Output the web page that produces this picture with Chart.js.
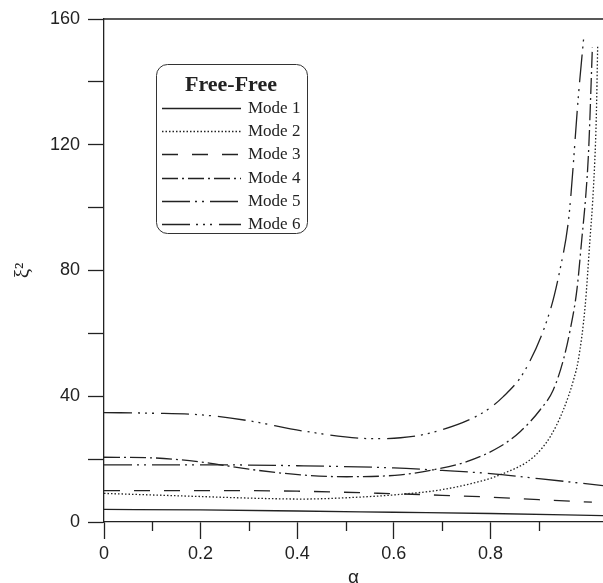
<!DOCTYPE html>
<html>
<head>
<meta charset="utf-8">
<script src="https://cdn.jsdelivr.net/npm/chart.js@4.4.0/dist/chart.umd.min.js"></script>
<style>
    html, body { margin: 0; padding: 0; background: #fff; }
    #wrap { width: 603px; height: 583px; }
</style>
</head>
<body>
<div id="wrap"><canvas id="modeChart" width="603" height="583"></canvas></div>
<script>
// values (alpha -> xi^2)
const legendTitle = 'Free-Free';
const modeLabels = ['Mode 1', 'Mode 2', 'Mode 3', 'Mode 4', 'Mode 5', 'Mode 6'];

const alpha1 = [0, 0.2, 0.4, 0.6, 0.8, 1.033];
const xi1 = [4.0, 3.85, 3.5, 3.1, 2.7, 2.0];

const alpha2 = [0, 0.1, 0.2, 0.3, 0.41, 0.5, 0.614, 0.7, 0.78, 0.82, 0.89, 0.924, 0.951, 0.972, 0.982, 0.996, 1.006, 1.013, 1.019, 1.022];
const xi2 = [9.1, 8.6, 8.1, 7.6, 7.3, 7.7, 8.8, 10.3, 13.0, 15.0, 20.8, 27.2, 35.7, 45.2, 51.6, 68.6, 89.8, 105.7, 128, 151.4];

const alpha3 = [0, 0.2, 0.4, 0.6, 0.7, 0.8, 0.9, 1.01];
const xi3 = [10.0, 10.0, 9.8, 9.0, 8.5, 7.9, 7.1, 6.3];

const alpha4 = [0, 0.1, 0.2, 0.3, 0.407, 0.503, 0.614, 0.682, 0.751, 0.82, 0.862, 0.903, 0.93, 0.951, 0.965, 0.979, 0.989, 0.997, 1.003, 1.011];
const xi4 = [20.6, 20.4, 19.1, 16.8, 15.0, 14.4, 15.0, 16.6, 19.2, 24.0, 28.8, 35.7, 42.0, 51.6, 61.1, 73.9, 89.8, 103.2, 117.4, 150.9];

const alpha5 = [0, 0.2, 0.4, 0.6, 0.7, 0.8, 0.9, 1.033];
const xi5 = [18.2, 18.2, 17.9, 17.2, 16.4, 15.4, 13.8, 11.6];

const alpha6 = [0, 0.1, 0.2, 0.3, 0.41, 0.56, 0.614, 0.675, 0.78, 0.826, 0.872, 0.924, 0.944, 0.961, 0.967, 0.982, 0.993];
const xi6 = [34.8, 34.6, 34.1, 32.2, 29.0, 26.5, 26.8, 28.3, 34.4, 39.8, 48.4, 67.5, 80.3, 95.2, 104.8, 135.4, 154.0];

const alphaSets = [alpha1, alpha2, alpha3, alpha4, alpha5, alpha6];
const xiSets = [xi1, xi2, xi3, xi4, xi5, xi6];
const dashes = [[], [1.5, 2], [16, 14], [16, 4, 2, 4], [28, 5, 2, 5, 2, 6], [28, 6, 2, 5, 2, 5, 2, 7]];

const ink = '#222';

// short minor ticks on the x axis, top frame line, boxed legend
const extras = {
    id: 'extras',
    afterDraw(chart) {
        const c = chart.ctx;
        const area = chart.chartArea;
        const xs = chart.scales.x;
        c.save();
        c.strokeStyle = ink;
        c.lineWidth = 1.3;
        c.beginPath();
        c.moveTo(area.left, area.top);
        c.lineTo(area.right, area.top);
        [0.1, 0.3, 0.5, 0.7, 0.9].forEach(v => {
            const px = Math.round(xs.getPixelForValue(v)) + 0.5;
            c.moveTo(px, area.bottom);
            c.lineTo(px, area.bottom + 9);
        });
        c.stroke();

        // legend box
        const bx = 156, by = 64, bw = 151, bh = 169;
        c.fillStyle = '#fff';
        c.lineWidth = 1;
        c.strokeStyle = '#333';
        c.beginPath();
        c.roundRect(bx + 0.5, by + 0.5, bw, bh, 11);
        c.fill();
        c.stroke();

        c.fillStyle = ink;
        c.textAlign = 'center';
        c.textBaseline = 'middle';
        c.font = 'bold 22px "Liberation Serif"';
        c.fillText(legendTitle, 231, 85);

        c.font = '17px "Liberation Serif"';
        c.textAlign = 'left';
        chart.data.datasets.forEach((ds, i) => {
            const y = Math.round(108 + 23.2 * i) + 0.5;
            c.strokeStyle = ink;
            c.lineWidth = 1.3;
            c.setLineDash(ds.borderDash);
            c.beginPath();
            c.moveTo(162, y);
            c.lineTo(241, y);
            c.stroke();
            c.setLineDash([]);
            c.fillText(ds.label, 248, y);
        });
        c.restore();
    }
};

const ctx = document.getElementById('modeChart').getContext('2d');
Chart.defaults.font.family = '"Liberation Sans", Arial, sans-serif';
Chart.defaults.color = ink;

const modeChart = new Chart(ctx, {
    type: 'line',
    data: {
        datasets: modeLabels.map((label, i) => ({
            label: label,
            data: alphaSets[i].map((a, j) => ({ x: a, y: xiSets[i][j] })),
            borderColor: ink,
            borderWidth: 1.3,
            borderDash: dashes[i],
            pointRadius: 0,
            fill: false,
            cubicInterpolationMode: 'monotone',
        })),
    },
    options: {
        responsive: false,
        animation: false,
        layout: { padding: { top: 19, right: 0, left: 0, bottom: 0 } },
        plugins: { legend: { display: false }, tooltip: { enabled: false } },
        scales: {
            x: {
                type: 'linear',
                min: 0,
                max: 1.033,
                afterBuildTicks: s => { s.ticks = s.ticks.filter(t => t.value < 0.95); },
                afterFit: s => { s.height = 61; },
                ticks: {
                    stepSize: 0.1,
                    autoSkip: false,
                    maxRotation: 0,
                    padding: 4,
                    font: { size: 18 },
                    callback: v => {
                        const k = Math.round(v * 10);
                        if (k % 2 !== 0) return '';
                        return k === 0 ? '0' : (k / 10).toFixed(1);
                    },
                },
                grid: {
                    drawOnChartArea: false,
                    tickLength: 17,
                    tickWidth: 1.3,
                    tickColor: c => (c.tick && Math.round(c.tick.value * 10) % 2 === 0) ? ink : 'rgba(0,0,0,0)',
                },
                border: { color: ink, width: 1.3 },
                title: {
                    display: true,
                    text: 'α',
                    font: { size: 19, lineHeight: 0.5 },
                    padding: { top: 0, bottom: 0 },
                },
            },
            y: {
                min: 0,
                max: 160,
                afterFit: s => { s.width = 104; },
                ticks: {
                    stepSize: 20,
                    padding: 8,
                    font: { size: 18 },
                    callback: v => (v % 40 === 0 ? v : ''),
                },
                grid: {
                    drawOnChartArea: false,
                    tickLength: 16,
                    tickWidth: 1.3,
                    tickColor: ink,
                },
                border: { color: ink, width: 1.3 },
                title: {
                    display: true,
                    text: 'ξ²',
                    font: { size: 21, family: '"Liberation Serif", serif' },
                    padding: { top: 11, bottom: 0 },
                },
            },
        },
    },
    plugins: [extras],
});
</script>
</body>
</html>
